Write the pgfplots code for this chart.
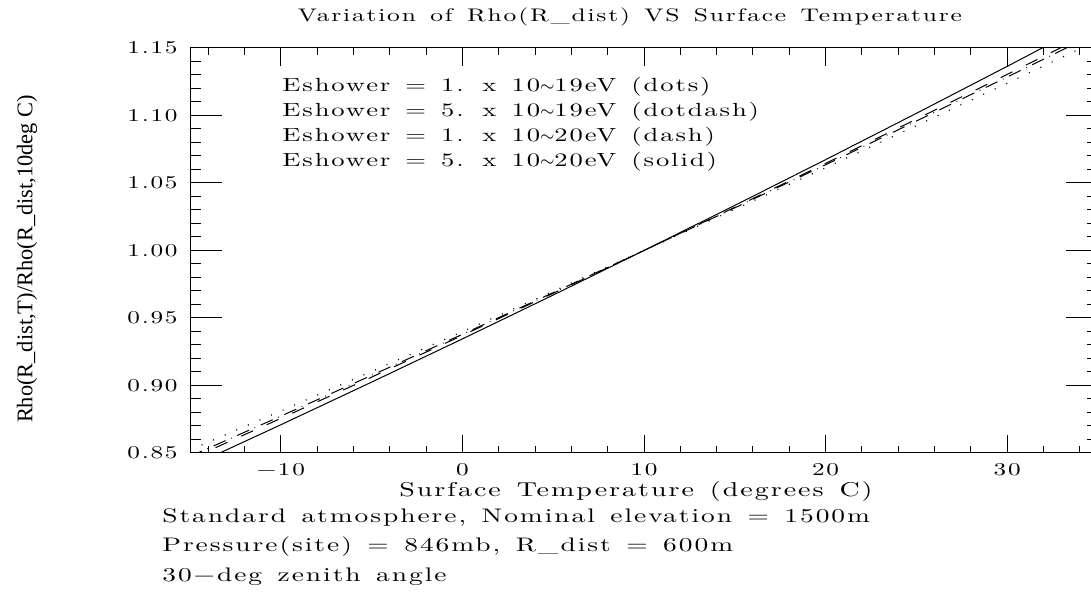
\documentclass[border=0pt]{standalone}
\usepackage{fontspec}
% wide, light serif to stand in for the plotter's stroke font
\setmainfont{lmroman10-regular.otf}[FakeStretch=1.4,LetterSpace=10,WordSpace=1.4]
\newfontfamily\ylabfont{Liberation Serif}
\usepackage{pgfplots}
\pgfplotsset{compat=1.18}

\begin{document}
\begin{tikzpicture}[font=\fontsize{9.5}{11}\selectfont]
\useasboundingbox (-95pt,-69.5pt) rectangle (450.5pt,226.5pt);
\begin{axis}[%
    at={(0pt,0pt)}, anchor=south west,
    scale only axis, width=454pt, height=202.5pt,
    xmin=-15, xmax=35, ymin=0.85, ymax=1.15,
    xtick={-10,0,10,20,30},
    xticklabels={−10,0,10,20,30},
    minor xtick={-14,-12,...,34},
    ytick={0.85,0.90,0.95,1.00,1.05,1.10,1.15},
    yticklabels={0.85,0.90,0.95,1.00,1.05,1.10,1.15},
    minor ytick={0.86,0.87,0.88,0.89,0.91,0.92,0.93,0.94,0.96,0.97,0.98,0.99,
      1.01,1.02,1.03,1.04,1.06,1.07,1.08,1.09,1.11,1.12,1.13,1.14},
    tick align=inside,
    /pgf/number format/assume math mode=true,
    axis line style={line width=0.5pt},
    major x tick style={black, line width=0.5pt, /pgfplots/major tick length=9pt},
    minor x tick style={black, line width=0.5pt, /pgfplots/minor tick length=3.5pt},
    major y tick style={black, line width=0.5pt, /pgfplots/major tick length=16pt},
    minor y tick style={black, line width=0.5pt, /pgfplots/minor tick length=5.5pt},
    ticklabel style={font=\fontsize{9}{10}\selectfont},
    xticklabel style={anchor=center, inner sep=0pt, yshift=-8.5pt},
    yticklabel style={anchor=east, inner sep=0pt, xshift=-6pt},
  ]
% dots: 1e19 eV
\addplot[black, line width=0.6pt, dash pattern=on 0.5pt off 5.8pt] coordinates {
  (-15,0.8522) (-10,0.8811) (-5,0.9104) (0,0.9399) (5,0.9698) (10,1.0000)
  (15,1.0305) (20,1.0613) (25,1.0925) (30,1.1239) (35,1.1557)
};
% dotdash: 5e19 eV
\addplot[black, line width=0.5pt, dash pattern=on 6.5pt off 3pt on 0.4pt off 3pt] coordinates {
  (-15,0.8475) (-10,0.8773) (-5,0.9075) (0,0.9379) (5,0.9688) (10,1.0000)
  (15,1.0316) (20,1.0635) (25,1.0959) (30,1.1285) (35,1.1615)
};
% dash: 1e20 eV
\addplot[black, line width=0.5pt, dash pattern=on 6.5pt off 7.5pt] coordinates {
  (-15,0.8455) (-10,0.8756) (-5,0.9062) (0,0.9371) (5,0.9683) (10,1.0000)
  (15,1.0320) (20,1.0645) (25,1.0973) (30,1.1304) (35,1.1640)
};
% solid: 5e20 eV
\addplot[black, line width=0.5pt] coordinates {
  (-15,0.8398) (-10,0.8709) (-5,0.9025) (0,0.9345) (5,0.9670) (10,1.0000)
  (15,1.0334) (20,1.0673) (25,1.1016) (30,1.1364) (35,1.1717)
};
\end{axis}
% title and axis labels
\node[font=\fontsize{9.1}{10}\selectfont] at (220pt,218pt)
  {Variation of Rho(R\_dist) VS Surface Temperature};
\node[font=\fontsize{10}{11}\selectfont] at (223pt,-19.5pt) {Surface Temperature (degrees C)};
\node[rotate=90, font=\ylabfont\fontsize{11.2}{13}\selectfont] at (-81.5pt,97pt)
  {Rho(R\_dist,T)/Rho(R\_dist,10deg C)};
% key
\node[anchor=west, inner sep=0pt] at (46pt,183pt) {Eshower = 1. x 10$\sim$19eV (dots)};
\node[anchor=west, inner sep=0pt] at (46pt,170.5pt) {Eshower = 5. x 10$\sim$19eV (dotdash)};
\node[anchor=west, inner sep=0pt] at (46pt,158pt) {Eshower = 1. x 10$\sim$20eV (dash)};
\node[anchor=west, inner sep=0pt] at (46pt,145.5pt) {Eshower = 5. x 10$\sim$20eV (solid)};
% notes
\begin{scope}[font=\fontsize{9.8}{11}\selectfont]
\node[anchor=west, inner sep=0pt] at (-14pt,-32pt) {Standard atmosphere, Nominal elevation = 1500m};
\node[anchor=west, inner sep=0pt] at (-14pt,-47pt) {Pressure(site) = 846mb, R\_dist = 600m};
\node[anchor=west, inner sep=0pt] at (-14pt,-62pt) {30−deg zenith angle};
\end{scope}
\end{tikzpicture}
\end{document}
